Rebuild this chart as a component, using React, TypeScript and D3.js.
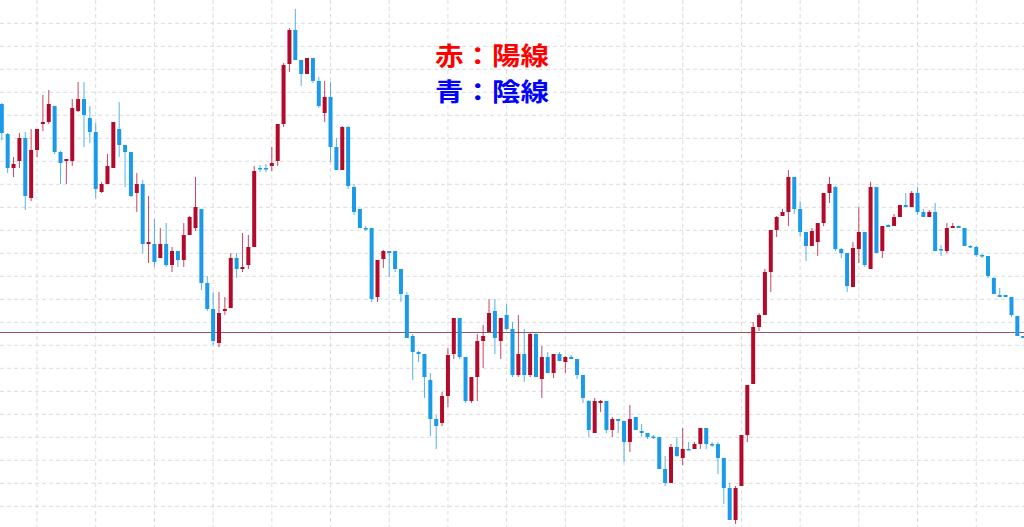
import { useMemo } from "react";
import * as d3 from "d3";

const WIDTH = 1024;
const HEIGHT = 527;

// [open, high, low, close]
const candles: [number, number, number, number][] = [
  [896, 897, 860, 867], [866, 867, 827, 832], [832, 843, 823, 836], [839, 867, 832, 862],
  [862, 868, 790, 804], [802, 871, 799, 850], [850, 871, 843, 871], [876, 905, 869, 878],
  [878, 910, 876, 896], [894, 894, 846, 848], [848, 849, 816, 837], [839, 841, 816, 841],
  [839, 901, 834, 892], [889, 918, 888, 901], [901, 918, 853, 885], [882, 894, 857, 868],
  [868, 877, 802, 811], [808, 818, 807, 816], [816, 846, 816, 834], [832, 878, 832, 878],
  [871, 898, 843, 855], [855, 855, 813, 848], [848, 848, 803, 804], [807, 827, 788, 816],
  [816, 820, 747, 756], [756, 804, 737, 758], [756, 781, 733, 738], [742, 772, 742, 756],
  [756, 777, 733, 735], [735, 753, 728, 749], [749, 749, 733, 740], [740, 777, 733, 765],
  [765, 784, 765, 783], [772, 823, 769, 793], [791, 791, 710, 717], [717, 724, 689, 691],
  [691, 708, 655, 659], [657, 708, 653, 687], [689, 703, 685, 691], [692, 747, 692, 742],
  [742, 747, 722, 731], [731, 767, 728, 733], [735, 765, 731, 753], [753, 834, 753, 829],
  [832, 835, 828, 831], [832, 836, 828, 831], [834, 853, 829, 837], [839, 876, 834, 876],
  [876, 937, 873, 935], [936, 972, 928, 970], [970, 991, 940, 940], [940, 940, 914, 926],
  [926, 942, 926, 942], [942, 942, 917, 919], [919, 923, 892, 894], [887, 919, 878, 903],
  [903, 918, 838, 853], [853, 862, 830, 830], [830, 874, 830, 873], [873, 874, 811, 814],
  [813, 816, 785, 788], [791, 791, 772, 772], [772, 774, 769, 771], [772, 772, 698, 701],
  [703, 740, 698, 740], [741, 750, 732, 749], [749, 749, 723, 747], [749, 749, 728, 731],
  [731, 731, 698, 706], [705, 708, 662, 662], [664, 666, 620, 648], [648, 649, 638, 646],
  [646, 646, 602, 623], [620, 627, 564, 581], [581, 585, 551, 574], [577, 608, 574, 604],
  [604, 652, 593, 645], [646, 682, 641, 682], [682, 682, 641, 643], [643, 643, 597, 599],
  [599, 623, 597, 623], [623, 666, 599, 659], [659, 675, 632, 664], [668, 701, 668, 687],
  [689, 701, 646, 662], [659, 682, 641, 682], [685, 696, 670, 671], [671, 678, 623, 625],
  [625, 685, 623, 646], [646, 671, 618, 625], [625, 667, 623, 666], [666, 668, 623, 623],
  [621, 654, 602, 643], [643, 648, 627, 627], [627, 646, 622, 646], [646, 648, 639, 639],
  [638, 644, 627, 643], [643, 645, 641, 641], [641, 641, 621, 625], [625, 625, 597, 602],
  [599, 600, 563, 570], [567, 602, 567, 599], [597, 600, 588, 599], [599, 599, 567, 570],
  [570, 583, 563, 581], [581, 581, 567, 579], [579, 579, 538, 558], [558, 595, 548, 581],
  [583, 583, 570, 570], [569, 576, 563, 567], [567, 567, 561, 563], [563.5, 565, 561, 562.5],
  [563, 563, 531, 531], [531, 544, 514, 517], [517, 556, 517, 553], [553, 563, 543, 544],
  [542, 572, 535, 551], [551, 558, 550, 550], [551, 558, 551, 556], [556, 572, 551, 572],
  [572, 572, 551, 556], [556, 558, 553, 555], [556, 558, 526, 542], [542, 542, 496, 512],
  [512, 517, 480, 480], [480, 514, 476, 512], [514, 565, 514, 565], [565, 615, 558, 615],
  [616, 678, 616, 673], [673, 687, 669, 685], [685, 731, 685, 728], [728, 770, 708, 770],
  [770, 784, 763, 783], [784, 791, 784, 788], [788, 830, 774, 823], [823, 823, 786, 791],
  [791, 799, 763, 768], [768, 768, 739, 754], [754, 772, 754, 769], [758, 777, 744, 777],
  [777, 807, 774, 807], [807, 823, 797, 816], [813, 814, 749, 751], [751, 752, 742, 747],
  [747, 747, 708, 714], [713, 758, 713, 752], [751, 793, 737, 768], [768, 768, 733, 735],
  [731, 818, 731, 813], [813, 813, 747, 747], [749, 774, 742, 774], [775, 776, 773, 773],
  [774, 786, 774, 783], [783, 795, 783, 795], [795, 807, 793, 793], [793, 809, 793, 807],
  [807, 813, 785, 788], [788, 791, 783, 783], [783, 790, 783, 788], [788, 797, 749, 749],
  [751, 755, 744, 750], [749, 777, 747, 772], [772, 777, 772, 774], [774, 774.5, 772, 772],
  [772, 772, 754, 754], [754, 755, 752, 753], [753, 754, 743, 745], [745, 746, 742, 744],
  [744, 744, 722, 724], [722, 723, 706, 706], [705, 712, 703, 703], [705, 705, 703, 703],
  [703, 703, 683, 685], [684, 684, 664, 664], [664, 664, 662, 662],
];

const REF_LEVEL = 668.5;
const legendLines = [
  { text: "赤：陽線", color: "#ff0000" },
  { text: "青：陰線", color: "#0000ff" },
];

const UP = "#b30a2c";
const DOWN = "#1a9ae8";

export default function App() {
  const xScale = useMemo(
    () => d3.scaleLinear().domain([0, candles.length - 1]).range([1.8, 1023.2]),
    []
  );
  const yScale = useMemo(() => d3.scaleLinear().domain([1000, 473]).range([0, HEIGHT]), []);

  const hGrid = d3.range(976.7, 473, -23);
  const vGrid = d3.range(6, candles.length, 10);

  return (
    <svg
      width={WIDTH}
      height={HEIGHT}
      style={{ position: "fixed", left: 0, top: 0, background: "#fff" }}
    >
      {/* grid */}
      {hGrid.map((p, i) => (
        <line
          key={"h" + i}
          x1={0}
          x2={WIDTH}
          y1={yScale(p)}
          y2={yScale(p)}
          stroke="#dcdcdc"
          strokeDasharray="4,3"
        />
      ))}
      {vGrid.map((c, i) => (
        <line
          key={"v" + i}
          x1={xScale(c)}
          x2={xScale(c)}
          y1={0}
          y2={HEIGHT}
          stroke="#dcdcdc"
          strokeDasharray="4,3"
        />
      ))}

      <line
        x1={0}
        x2={WIDTH}
        y1={Math.round(yScale(REF_LEVEL)) + 0.5}
        y2={Math.round(yScale(REF_LEVEL)) + 0.5}
        stroke="#a0505e"
        strokeWidth={1}
      />

      {/* candles */}
      {candles.map(([o, h, l, c], i) => {
        const x = xScale(i);
        const up = c > o;
        const color = up ? UP : DOWN;
        const top = yScale(Math.max(o, c));
        const bottom = yScale(Math.min(o, c));
        const bh = Math.max(bottom - top, 1.5);
        return (
          <g key={i}>
            <line
              x1={x}
              x2={x}
              y1={yScale(h)}
              y2={yScale(l)}
              stroke={color}
              strokeWidth={1}
              opacity={0.75}
            />
            <rect x={x - 2} y={top} width={4} height={bh} fill={color} />
          </g>
        );
      })}

      {/* legend */}
      {legendLines.map((d, i) => (
        <text
          key={i}
          x={435}
          y={65 + i * 36}
          fontFamily="'Noto Sans CJK JP', 'Noto Sans', sans-serif"
          fontWeight="bold"
          fontSize={25}
          fill={d.color}
          textLength={114}
          lengthAdjust="spacingAndGlyphs"
        >
          {d.text}
        </text>
      ))}
    </svg>
  );
}
